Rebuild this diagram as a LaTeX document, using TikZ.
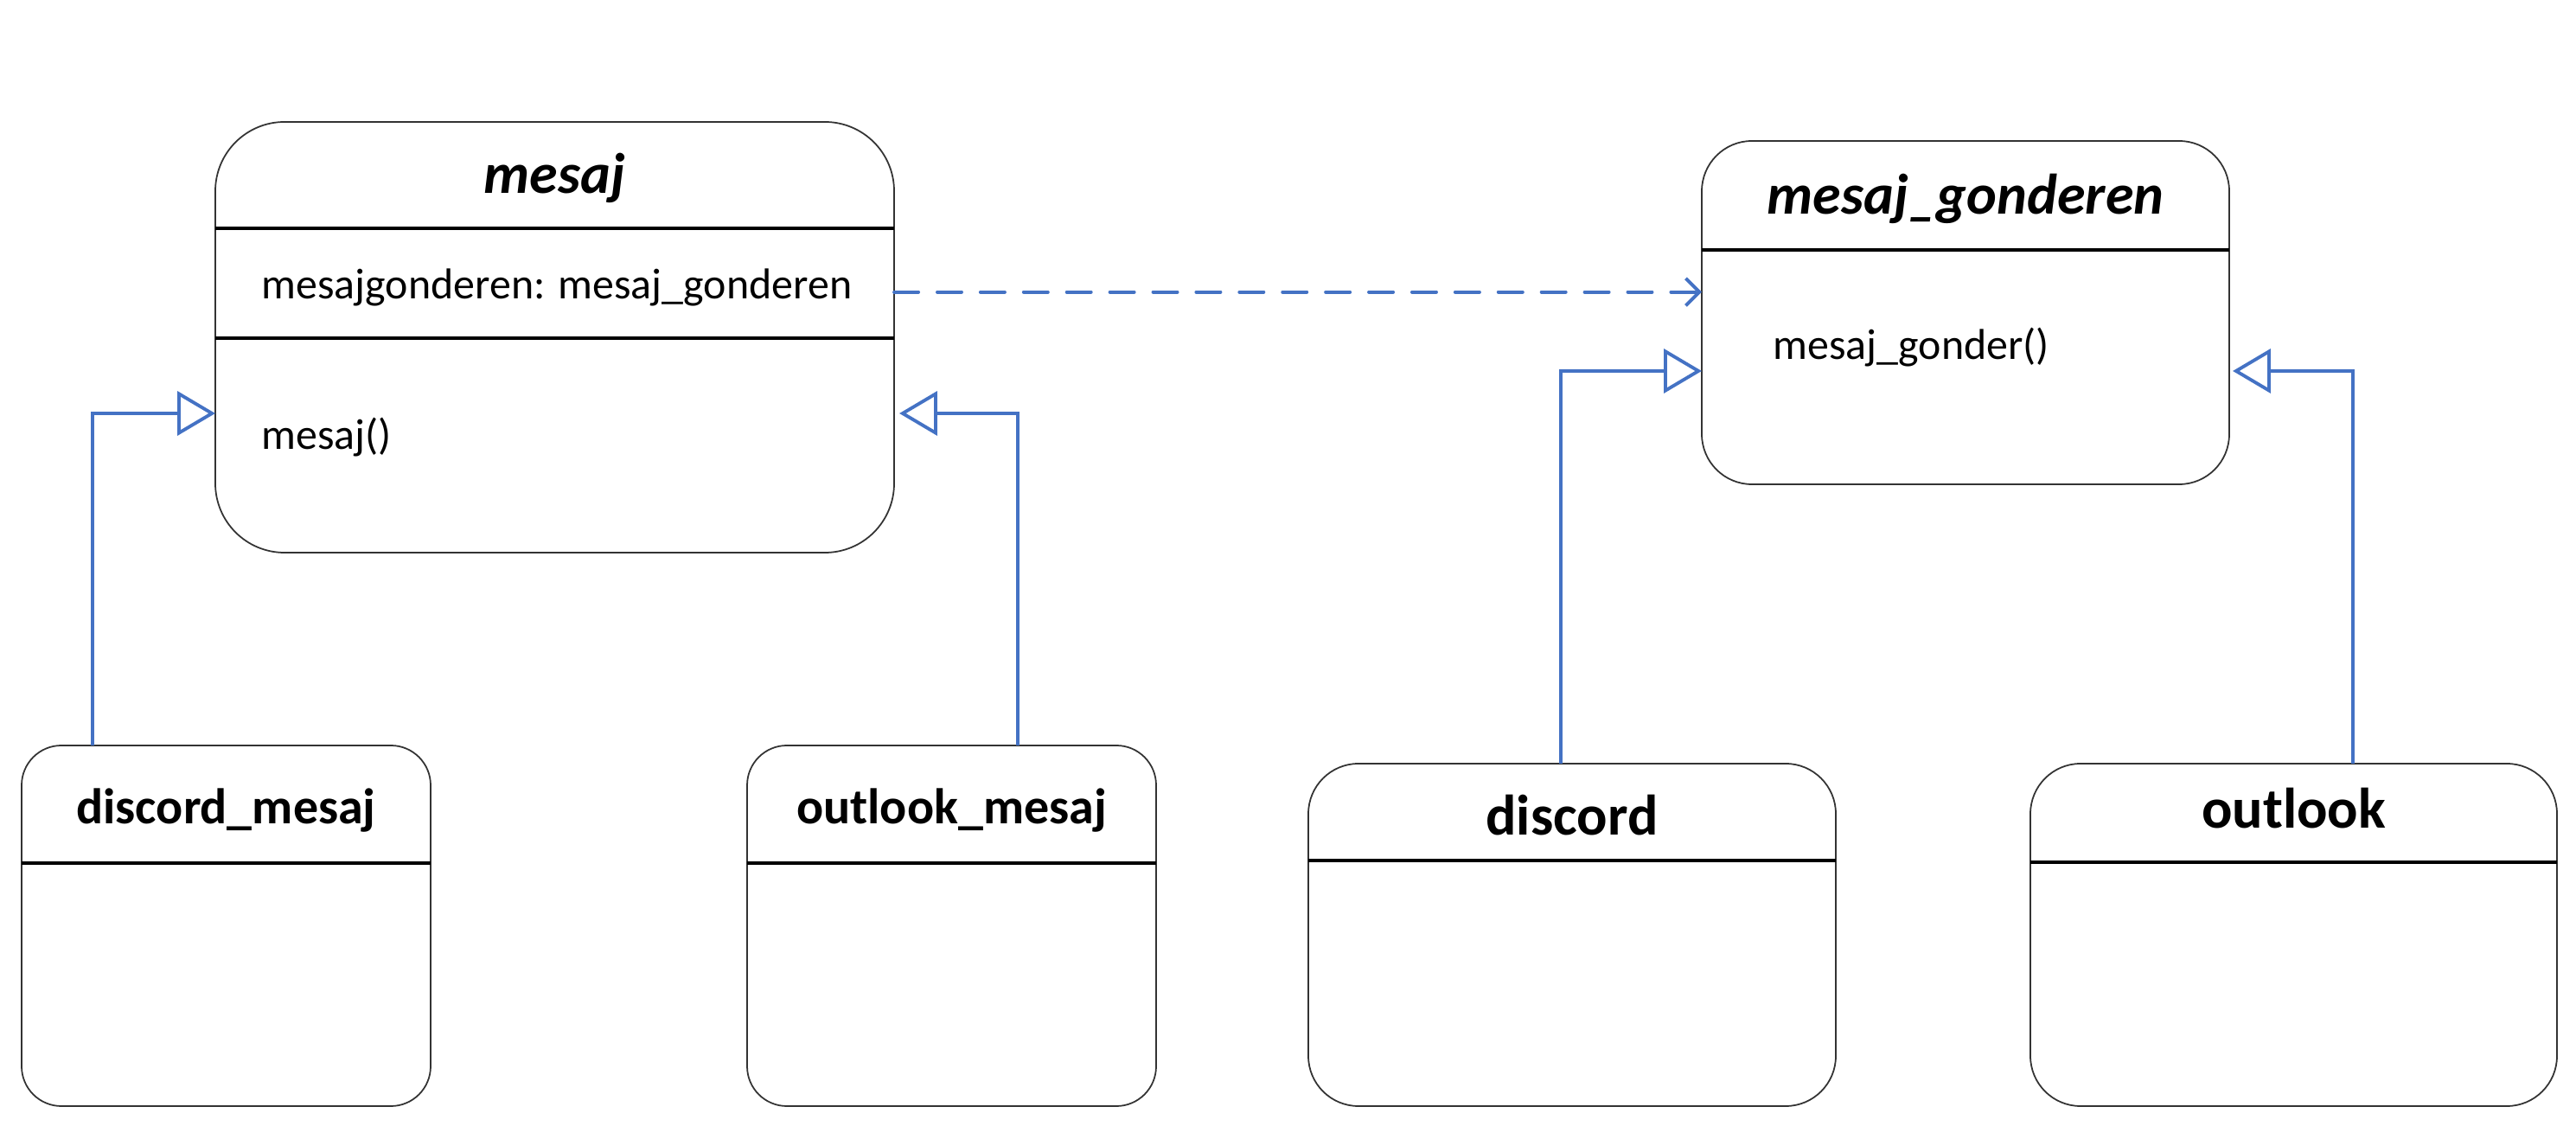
\documentclass[tikz,border=0pt]{standalone}
\usepackage{fontspec}
\setmainfont{Carlito}
\usepackage{tikz}
\usetikzlibrary{positioning,calc,arrows.meta}

\definecolor{umlblue}{HTML}{4472C4}

\begin{document}
\begin{tikzpicture}[
	cls/.style={draw=black!80, line width=0.5pt, rounded corners=#1, inner sep=0pt, outer sep=0pt},
	cls/.default=0.58cm,
	sepline/.style={draw=black, line width=1.3pt},
	ttl/.style={anchor=base, inner sep=0pt, font=\fontsize{18.8}{22}\selectfont\bfseries},
	subttl/.style={anchor=base, inner sep=0pt, font=\fontsize{16.5}{20}\selectfont\bfseries},
	member/.style={anchor=base west, inner sep=0pt, font=\fontsize{14.2}{17}\selectfont},
	inherit/.style={draw=umlblue, line width=1.1pt, -{Triangle[open, length=12.5pt, width=14.5pt]}},
	uses/.style={draw=umlblue, line width=1.1pt, line cap=round, dash pattern=on 8pt off 6.2pt, -{Straight Barb[length=4.5pt, width=9pt]}}
]
	\useasboundingbox (0, 0) rectangle (29.79, 13.02);

	% abstract classes
	\node [cls=0.8cm, minimum width=7.85cm, minimum height=4.98cm] (mesaj) at (6.415, 9.12) {};
	\node [ttl] (mesajT) at ([yshift=-0.83cm]mesaj.north) {\itshape mesaj};
	\draw [sepline] ([yshift=-1.23cm]mesaj.north west) -- ([yshift=-1.23cm]mesaj.north east);
	\node [member] (mesajA) at ([xshift=0.53cm, yshift=-2.05cm]mesaj.north west) {mesajgonderen: mesaj\_gonderen};
	\draw [sepline] ([yshift=-2.50cm]mesaj.north west) -- ([yshift=-2.50cm]mesaj.north east);
	\node [member] (mesajM) at ([xshift=0.53cm, yshift=-3.79cm]mesaj.north west) {mesaj()};

	\node [cls, minimum width=6.10cm, minimum height=3.97cm] (gonderen) at (22.73, 9.405) {};
	\node [ttl] (gonderenT) at ([yshift=-0.85cm]gonderen.north) {\itshape mesaj\_gonderen};
	\draw [sepline] ([yshift=-1.26cm]gonderen.north west) -- ([yshift=-1.26cm]gonderen.north east);
	\node [member] (gonderenM) at ([xshift=0.82cm, yshift=-2.53cm]gonderen.north west) {mesaj\_gonder()};

	% concrete classes
	\node [cls=0.46cm, minimum width=4.73cm, minimum height=4.17cm] (dmesaj) at (2.615, 2.315) {};
	\node [subttl] (dmesajT) at ([yshift=-0.91cm]dmesaj.north) {discord\_mesaj};
	\draw [sepline] ([yshift=-1.36cm]dmesaj.north west) -- ([yshift=-1.36cm]dmesaj.north east);

	\node [cls=0.46cm, minimum width=4.73cm, minimum height=4.17cm] (omesaj) at (11.005, 2.315) {};
	\node [subttl] (omesajT) at ([yshift=-0.91cm]omesaj.north) {outlook\_mesaj};
	\draw [sepline] ([yshift=-1.36cm]omesaj.north west) -- ([yshift=-1.36cm]omesaj.north east);

	\node [cls, minimum width=6.10cm, minimum height=3.96cm] (discord) at (18.18, 2.21) {};
	\node [ttl] (discordT) at ([yshift=-0.83cm]discord.north) {discord};
	\draw [sepline] ([yshift=-1.12cm]discord.north west) -- ([yshift=-1.12cm]discord.north east);

	\node [cls, minimum width=6.09cm, minimum height=3.96cm] (outlook) at (26.525, 2.21) {};
	\node [ttl] (outlookT) at ([yshift=-0.75cm]outlook.north) {outlook};
	\draw [sepline] ([yshift=-1.14cm]outlook.north west) -- ([yshift=-1.14cm]outlook.north east);

	% connectors
	\path [uses] (mesaj.east |- mesajA.mid) -- (gonderen.west |- mesajA.mid);
	\path [inherit] ([xshift=-1.545cm]dmesaj.north) |- ([yshift=-0.88cm]mesaj.west);
	\path [inherit] ([xshift=0.765cm]omesaj.north) |- ([xshift=0.06cm, yshift=-0.88cm]mesaj.east);
	\path [inherit] ([xshift=-0.13cm]discord.north) |- ([yshift=-0.675cm]gonderen.west);
	\path [inherit] ([xshift=0.685cm]outlook.north) |- ([xshift=0.04cm, yshift=-0.675cm]gonderen.east);
\end{tikzpicture}
\end{document}
